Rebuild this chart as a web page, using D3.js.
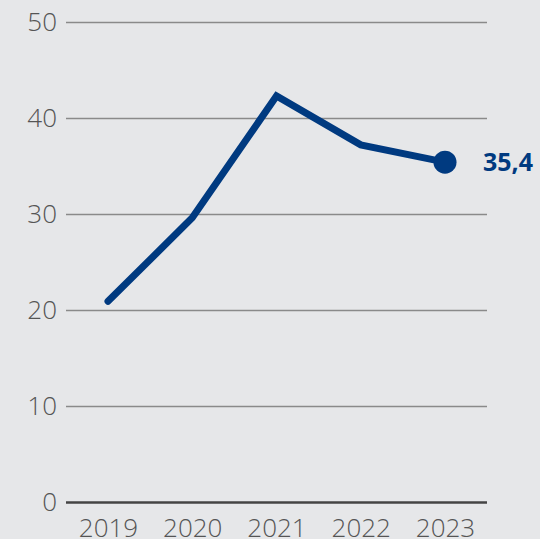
<!DOCTYPE html>
<html><head><meta charset="utf-8">
<script src="https://cdn.jsdelivr.net/npm/d3@7"></script>
<style>html,body{margin:0;padding:0;background:#e6e7e9;overflow:hidden}</style>
</head><body>
<svg id="c" width="540" height="539"></svg>
<script>
const years = [2019, 2020, 2021, 2022, 2023];
const values = [20.9, 29.6, 42.3, 37.2, 35.4];
const yTicks = [0, 10, 20, 30, 40, 50];
const lastLabel = "35,4";

const svg = d3.select("#c");
svg.append("rect").attr("width",540).attr("height",539).attr("fill","#e6e7e9");
const x = d3.scaleLinear().domain([2019, 2023]).range([108, 445]);
const y = d3.scaleLinear().domain([0, 50]).range([502, 22]);
const font = "'Open Sans', 'Noto Sans', sans-serif";

const yAxis = d3.axisLeft(y).tickValues(yTicks).tickSize(-421).tickPadding(9);
const gy = svg.append("g").attr("transform","translate(66,0)").call(yAxis);
gy.select(".domain").remove();
gy.selectAll(".tick line").attr("stroke","#8a8a8a").attr("stroke-width",1.5)
  .attr("x1",0);
gy.selectAll(".tick line").filter(d=>d===0).attr("stroke","#444").attr("stroke-width",2.6);
gy.selectAll(".tick text").attr("font-family",font).attr("font-weight",300)
  .attr("font-size",26).attr("fill","#555");

const xAxis = d3.axisBottom(x).tickValues(years).tickFormat(d3.format("d")).tickSize(0).tickPadding(17);
const gx = svg.append("g").attr("transform","translate(0,502)").call(xAxis);
gx.select(".domain").remove();
gx.selectAll(".tick text").attr("font-family",font).attr("font-weight",300)
  .attr("font-size",26).attr("fill","#555");

const data = years.map((yr,i)=>({yr, v: values[i]}));
svg.append("path").datum(data)
  .attr("d", d3.line().x(d=>x(d.yr)).y(d=>y(d.v)))
  .attr("fill","none").attr("stroke","#003a80").attr("stroke-width",7)
  .attr("stroke-linejoin","miter").attr("stroke-linecap","round");
const last = data[data.length-1];
svg.append("circle").attr("cx",x(last.yr)).attr("cy",y(last.v)).attr("r",11.5).attr("fill","#003a80");
svg.append("text").attr("x",x(last.yr)+38).attr("y",y(last.v)).attr("dy","0.35em")
  .attr("font-family",font).attr("font-weight",700).attr("font-size",25)
  .attr("fill","#003a80").text(lastLabel);
</script>
</body></html>
